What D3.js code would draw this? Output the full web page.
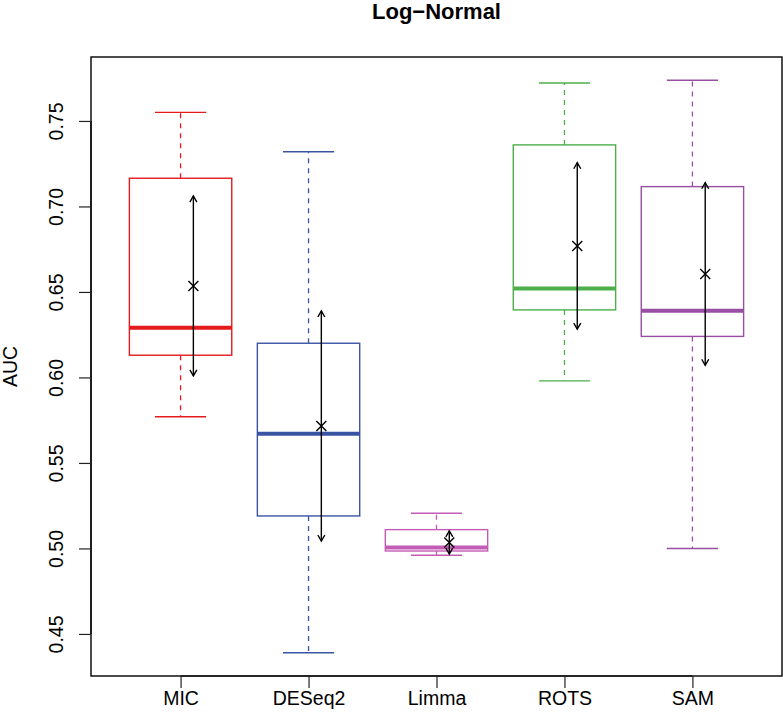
<!DOCTYPE html>
<html>
<head>
<meta charset="utf-8">
<script src="https://cdn.jsdelivr.net/npm/d3@7"></script>
<style>
  html, body { margin: 0; padding: 0; background: #fff; }
  svg { display: block; }
  text { font-family: "Liberation Sans", Arial, Helvetica, sans-serif; }
</style>
</head>
<body>
<svg id="chart" width="783" height="724"></svg>
<script>
// ---- Data ----
const categories  = ["MIC", "DESeq2", "Limma", "ROTS", "SAM"];
const whiskerLow  = [0.577, 0.439, 0.496, 0.598, 0.500];
const q1          = [0.613, 0.519, 0.4985, 0.6395, 0.624];
const medians     = [0.629, 0.567, 0.5005, 0.652, 0.639];
const q3          = [0.7165, 0.620, 0.511, 0.736, 0.7116];
const whiskerHigh = [0.755, 0.732, 0.5206, 0.7722, 0.7738];
const means       = [0.6535, 0.5716, 0.5035, 0.6769, 0.6605];
const sds         = [0.0526, 0.0673, 0.0068, 0.0487, 0.0534];
const colors      = ["#E41A1C", "#3A54A4", "#C45CB6", "#4DAF4A", "#984EA3"];
const yTicks      = [0.45, 0.50, 0.55, 0.60, 0.65, 0.70, 0.75];
const titleText   = "Log\u2212Normal";
const yLabel      = "AUC";

// ---- Layout ----
const frame = { left: 91, right: 782, top: 57, bottom: 676 };
const svg = d3.select("#chart");

const x = d3.scaleLinear().domain([0.3, 5.7]).range([frame.left, frame.right]);
const yMin = 0.4254, yMax = 0.7874;
const y = d3.scaleLinear().domain([yMin, yMax]).range([frame.bottom, frame.top]);

const boxHalf = 0.4, capHalf = 0.2, arrowOff = 0.1;

const data = categories.map((c, i) => ({
  c, i, pos: i + 1, lo: whiskerLow[i], q1: q1[i], med: medians[i], q3: q3[i], hi: whiskerHigh[i],
  mean: means[i], sd: sds[i], col: colors[i]
}));

const g = svg.append("g");
const bx = g.selectAll("g.box").data(data).join("g").attr("class", "box");

// whiskers (dashed)
bx.append("line")
  .attr("x1", d => x(d.pos)).attr("x2", d => x(d.pos))
  .attr("y1", d => y(d.q3)).attr("y2", d => y(d.hi))
  .attr("stroke", d => d.col).attr("stroke-width", 1.3).attr("stroke-dasharray", "5,5");
bx.append("line")
  .attr("x1", d => x(d.pos)).attr("x2", d => x(d.pos))
  .attr("y1", d => y(d.q1)).attr("y2", d => y(d.lo))
  .attr("stroke", d => d.col).attr("stroke-width", 1.3).attr("stroke-dasharray", "5,5");
// caps
bx.append("line")
  .attr("x1", d => x(d.pos - capHalf)).attr("x2", d => x(d.pos + capHalf))
  .attr("y1", d => y(d.hi)).attr("y2", d => y(d.hi))
  .attr("stroke", d => d.col).attr("stroke-width", 1.4);
bx.append("line")
  .attr("x1", d => x(d.pos - capHalf)).attr("x2", d => x(d.pos + capHalf))
  .attr("y1", d => y(d.lo)).attr("y2", d => y(d.lo))
  .attr("stroke", d => d.col).attr("stroke-width", 1.4);
// box
bx.append("rect")
  .attr("x", d => x(d.pos - boxHalf)).attr("width", d => x(d.pos + boxHalf) - x(d.pos - boxHalf))
  .attr("y", d => y(d.q3)).attr("height", d => y(d.q1) - y(d.q3))
  .attr("fill", "none").attr("stroke", d => d.col).attr("stroke-width", 1.4);
// median
bx.append("line")
  .attr("x1", d => x(d.pos - boxHalf)).attr("x2", d => x(d.pos + boxHalf))
  .attr("y1", d => y(d.med)).attr("y2", d => y(d.med))
  .attr("stroke", d => d.col).attr("stroke-width", 4);

// ---- Mean ± sd arrows ----
function arrowHead(px, py, dir) {
  const L = 7, a = Math.PI / 6;
  const dx = L * Math.sin(a), dy = L * Math.cos(a);
  return `M${px - dx},${py - dir * dy}L${px},${py}L${px + dx},${py - dir * dy}`;
}
const ar = g.selectAll("g.arrow").data(data).join("g").attr("class", "arrow");
ar.append("line")
  .attr("x1", d => x(d.pos + arrowOff)).attr("x2", d => x(d.pos + arrowOff))
  .attr("y1", d => y(d.mean + d.sd)).attr("y2", d => y(d.mean - d.sd))
  .attr("stroke", "#000").attr("stroke-width", 1.4);
ar.append("path")
  .attr("d", d => arrowHead(x(d.pos + arrowOff), y(d.mean + d.sd), -1))
  .attr("fill", "none").attr("stroke", "#000").attr("stroke-width", 1.4);
ar.append("path")
  .attr("d", d => arrowHead(x(d.pos + arrowOff), y(d.mean - d.sd), 1))
  .attr("fill", "none").attr("stroke", "#000").attr("stroke-width", 1.4);
const cs = 5;
ar.append("path")
  .attr("d", d => {
    const cx = x(d.pos + arrowOff), cy = y(d.mean);
    return `M${cx - cs},${cy - cs}L${cx + cs},${cy + cs}M${cx - cs},${cy + cs}L${cx + cs},${cy - cs}`;
  })
  .attr("fill", "none").attr("stroke", "#000").attr("stroke-width", 1.4);

// ---- Frame ----
svg.append("rect")
  .attr("x", frame.left).attr("y", frame.top)
  .attr("width", frame.right - frame.left).attr("height", frame.bottom - frame.top)
  .attr("fill", "none").attr("stroke", "#000").attr("stroke-width", 1.4);

// ---- Y axis ----
const yAxis = d3.axisLeft(y).tickValues(yTicks).tickSize(12).tickFormat(d3.format(".2f"));
const ya = svg.append("g").attr("transform", `translate(${frame.left},0)`).call(yAxis);
ya.select(".domain").attr("d", `M0,${y(yTicks[0])}V${y(yTicks[yTicks.length - 1])}`)
  .attr("stroke", "#000").attr("stroke-width", 1.2);
ya.selectAll(".tick line").attr("stroke", "#222").attr("stroke-width", 1.2);
ya.selectAll(".tick text")
  .attr("transform", "rotate(-90)")
  .attr("x", 0).attr("y", -28).attr("dy", 0)
  .attr("text-anchor", "middle")
  .attr("font-size", 19.5).attr("fill", "#000")
  .style("font-family", '"Liberation Sans", Arial, sans-serif');

// ---- X axis ----
const xAxis = d3.axisBottom(x).tickValues(categories.map((c, i) => i + 1))
  .tickSize(12).tickFormat((d, i) => categories[i]);
const xa = svg.append("g").attr("transform", `translate(0,${frame.bottom})`).call(xAxis);
xa.select(".domain").attr("d", `M${x(1)},0H${x(categories.length)}`)
  .attr("stroke", "#000").attr("stroke-width", 1.2);
xa.selectAll(".tick line").attr("stroke", "#222").attr("stroke-width", 1.2);
xa.selectAll(".tick text")
  .attr("y", 29).attr("dy", 0)
  .attr("font-size", 19.5).attr("fill", "#000")
  .style("font-family", '"Liberation Sans", Arial, sans-serif');

// ---- Titles ----
svg.append("text")
  .attr("x", (frame.left + frame.right) / 2).attr("y", 19)
  .attr("text-anchor", "middle").attr("font-size", 22).attr("font-weight", "bold")
  .text(titleText);

svg.append("text")
  .attr("transform", `translate(17,${(frame.top + frame.bottom) / 2}) rotate(-90)`)
  .attr("text-anchor", "middle").attr("font-size", 19.5)
  .text(yLabel);
</script>
</body>
</html>
